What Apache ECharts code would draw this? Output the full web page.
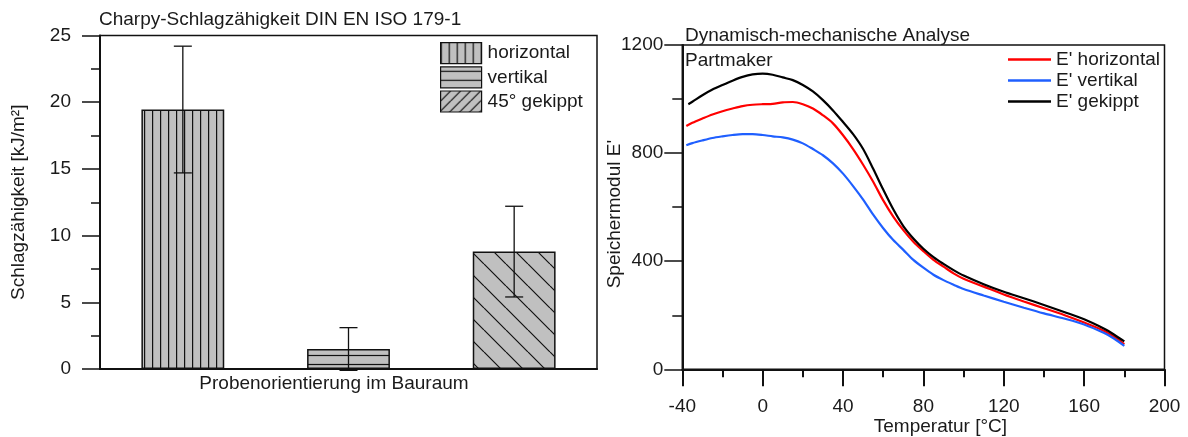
<!DOCTYPE html>
<html>
<head>
<meta charset="utf-8">
<script src="https://cdn.jsdelivr.net/npm/echarts@6/dist/echarts.min.js"></script>
<style>
html,body{margin:0;padding:0;background:#fff;}
#chart{width:1188px;height:437px;}
</style>
</head>
<body>
<div id="chart"></div>
<script>
// Charpy-Schlagzaehigkeit (links)
var orientations = ['horizontal', 'vertikal', '45° gekippt'];
var impactMean = [19.45, 1.5, 8.8];
var impactLow = [14.7, -0.1, 5.4];
var impactHigh = [24.2, 3.1, 12.2];

// DMA Speichermodul (rechts)
var tempStd = [-38,-35,-30,-25,-20,-15,-10,-5,0,5,10,15,20,25,30,35,40,45,50,55,60,65,70,75,80,85,90,95,100,110,120,130,140,150,160,170,175,180];
var tempGekippt = [-37,-35,-30,-25,-20,-15,-10,-5,0,5,10,15,20,25,30,35,40,45,50,55,60,65,70,75,80,85,90,95,100,110,120,130,140,150,160,170,175,180];
var eHorizontal = [900,912,928,943,955,965,974,979,981,982,988,989,981,965,940,910,866,815,757,694,625,565,515,472,437,405,380,355,335,306,277,251,226,201,173,142,120,93];
var eVertikal = [829,837,847,856,862,867,870,870,867,862,858,850,836,815,792,762,724,678,628,572,522,478,442,405,376,350,330,313,297,273,250,228,207,188,166,134,113,87];
var eGekippt = [981,990,1014,1035,1052,1068,1082,1091,1094,1090,1080,1070,1052,1028,996,958,915,870,815,742,665,592,530,484,446,415,390,367,347,315,287,263,238,212,185,150,128,103];

var FONT = "'Liberation Sans', Arial, sans-serif";
var TXT = '#1a1a1a';

function makePattern(size, draw) {
    var c = document.createElement('canvas');
    c.width = size; c.height = size;
    var ctx = c.getContext('2d');
    ctx.fillStyle = '#c0c0c0';
    ctx.fillRect(0, 0, size, size);
    ctx.strokeStyle = '#111';
    ctx.lineWidth = 1.2;
    ctx.beginPath();
    draw(ctx, size);
    ctx.stroke();
    return {image: c, repeat: 'repeat'};
}
var patVert = makePattern(8, function (ctx, s) { ctx.moveTo(0.6, 0); ctx.lineTo(0.6, s); });
var patHor = makePattern(9, function (ctx, s) { ctx.moveTo(0, 4.5); ctx.lineTo(s, 4.5); });
var patBack = makePattern(22, function (ctx, s) {
    for (var k = -1; k <= 1; k++) { ctx.moveTo(k * s, 0); ctx.lineTo(k * s + s, s); }
});
var patSlash = makePattern(10, function (ctx, s) {
    for (var k = 0; k <= 2; k++) { ctx.moveTo(k * s, 0); ctx.lineTo(k * s - s, s); }
});
var barPatterns = [patVert, patHor, patBack];
var legendPatterns = [patVert, patHor, patSlash];

function barData(i) {
    return impactMean.map(function (v, j) { return j === i ? v : '-'; });
}
function pairs(xs, ys) {
    return xs.map(function (x, i) { return [x, ys[i]]; });
}

var barSeries = orientations.map(function (name, i) {
    return {
        name: name,
        type: 'bar',
        xAxisIndex: 0, yAxisIndex: 0,
        barWidth: '50%',
        barGap: '-100%',
        data: barData(i),
        itemStyle: {color: barPatterns[i], borderColor: '#111', borderWidth: 1.5}
    };
});

var errorSeries = {
    type: 'custom',
    xAxisIndex: 0, yAxisIndex: 0,
    z: 5,
    data: orientations.map(function (o, i) { return [i, impactLow[i], impactHigh[i]]; }),
    encode: {x: 0, y: [1, 2]},
    renderItem: function (params, api) {
        var lo = api.coord([api.value(0), api.value(1)]);
        var hi = api.coord([api.value(0), api.value(2)]);
        var hw = 9;
        var st = {stroke: '#111', lineWidth: 1.3};
        return {
            type: 'group',
            children: [
                {type: 'line', shape: {x1: lo[0], y1: lo[1], x2: hi[0], y2: hi[1]}, style: st},
                {type: 'line', shape: {x1: hi[0] - hw, y1: hi[1], x2: hi[0] + hw, y2: hi[1]}, style: st},
                {type: 'line', shape: {x1: lo[0] - hw, y1: lo[1], x2: lo[0] + hw, y2: lo[1]}, style: st}
            ]
        };
    }
};

var lineSeries = [
    {name: "E' horizontal", color: '#ff0000', data: pairs(tempStd, eHorizontal)},
    {name: "E' vertikal", color: '#1f5fff', data: pairs(tempStd, eVertikal)},
    {name: "E' gekippt", color: '#000000', data: pairs(tempGekippt, eGekippt)}
].map(function (s) {
    return {
        name: s.name,
        type: 'line',
        xAxisIndex: 1, yAxisIndex: 1,
        data: s.data,
        smooth: 0.3,
        showSymbol: false,
        color: s.color,
        lineStyle: {color: s.color, width: 2.2}
    };
});

var axisLine = {show: true, onZero: false, lineStyle: {color: '#111', width: 2}};
var labelStyle = {color: TXT, fontSize: 19, fontFamily: FONT};
function plain(v) { return String(v); }

var myChart = echarts.init(document.getElementById('chart'));
var option = {
    animation: false,
    backgroundColor: '#fff',
    textStyle: {fontFamily: FONT},
    title: [
        {text: 'Charpy-Schlagzähigkeit DIN EN ISO 179-1', left: 99, top: 10, padding: 0,
            textStyle: {fontSize: 19, fontWeight: 'normal', color: TXT, fontFamily: FONT}},
        {text: 'Dynamisch-mechanische Analyse', left: 685, top: 26, padding: 0,
            textStyle: {fontSize: 19, fontWeight: 'normal', color: TXT, fontFamily: FONT}},
        {text: 'Partmaker', left: 685, top: 51, padding: 0,
            textStyle: {fontSize: 19, fontWeight: 'normal', color: TXT, fontFamily: FONT}}
    ],
    legend: [
        {
            orient: 'vertical',
            left: 440, top: 42,
            padding: 0,
            itemWidth: 41, itemHeight: 21, itemGap: 2,
            icon: 'rect',
            selectedMode: false,
            textStyle: {fontSize: 19, color: TXT, fontFamily: FONT, padding: [0, 0, 0, 1]},
            data: orientations.map(function (n, i) {
                return {name: n, itemStyle: {color: legendPatterns[i], borderColor: '#111', borderWidth: 1.2}};
            })
        },
        {
            orient: 'vertical',
            left: 1008, top: 50,
            padding: 0,
            itemWidth: 43, itemHeight: 2.5, itemGap: 2,
            icon: 'rect',
            selectedMode: false,
            textStyle: {fontSize: 19, color: TXT, fontFamily: FONT, lineHeight: 19},
            data: lineSeries.map(function (s) { return s.name; })
        }
    ],
    grid: [
        {left: 100, top: 35.5, width: 497, height: 333.5, show: true, borderColor: '#111', borderWidth: 1.5,
            outerBoundsMode: 'none'},
        {left: 682.3, top: 45, width: 482.2, height: 324.3, show: true, borderColor: '#111', borderWidth: 1.5,
            outerBoundsMode: 'none'}
    ],
    xAxis: [
        {
            gridIndex: 0,
            type: 'category',
            data: orientations,
            axisLine: axisLine,
            axisTick: {show: false},
            axisLabel: {show: false},
            name: 'Probenorientierung im Bauraum',
            nameLocation: 'middle',
            nameGap: 5,
            nameMoveOverlap: false,
            nameTextStyle: {fontSize: 19, color: TXT, fontFamily: FONT, padding: [0, 29, 0, 0]}
        },
        {
            gridIndex: 1,
            type: 'value',
            min: -40, max: 200, interval: 40,
            axisLine: axisLine,
            axisTick: {show: true, inside: false, length: 17, lineStyle: {color: '#111', width: 2}},
            minorTick: {show: true, splitNumber: 2, length: 8, lineStyle: {color: '#111', width: 2}},
            splitLine: {show: false},
            axisLabel: Object.assign({margin: 28, formatter: plain}, labelStyle),
            name: 'Temperatur [°C]',
            nameLocation: 'middle',
            nameGap: 48,
            nameMoveOverlap: false,
            nameTextStyle: {fontSize: 19, color: TXT, fontFamily: FONT, padding: [0, 0, 0, 34]}
        }
    ],
    yAxis: [
        {
            gridIndex: 0,
            type: 'value',
            min: 0, max: 25, interval: 5,
            axisLine: axisLine,
            axisTick: {show: true, inside: false, length: 18, lineStyle: {color: '#111', width: 1.5}},
            minorTick: {show: true, splitNumber: 2, length: 9, lineStyle: {color: '#111', width: 1.5}},
            splitLine: {show: false},
            axisLabel: Object.assign({margin: 29, formatter: plain}, labelStyle),
            name: 'Schlagzähigkeit [kJ/m²]',
            nameLocation: 'middle',
            nameRotate: 90,
            nameGap: 72,
            nameMoveOverlap: false,
            nameTextStyle: {fontSize: 19, color: TXT, fontFamily: FONT}
        },
        {
            gridIndex: 1,
            type: 'value',
            min: 0, max: 1200, interval: 400,
            axisLine: axisLine,
            axisTick: {show: true, inside: false, length: 18, lineStyle: {color: '#111', width: 1.5}},
            minorTick: {show: true, splitNumber: 2, length: 10, lineStyle: {color: '#111', width: 1.5}},
            splitLine: {show: false},
            axisLabel: Object.assign({margin: 19, formatter: plain}, labelStyle),
            name: "Speichermodul E'",
            nameLocation: 'middle',
            nameRotate: 90,
            nameGap: 58,
            nameMoveOverlap: false,
            nameTextStyle: {fontSize: 19, color: TXT, fontFamily: FONT, padding: [0, 14, 0, 0]}
        }
    ],
    series: barSeries.concat([errorSeries], lineSeries)
};
myChart.setOption(option);
</script>
</body>
</html>
